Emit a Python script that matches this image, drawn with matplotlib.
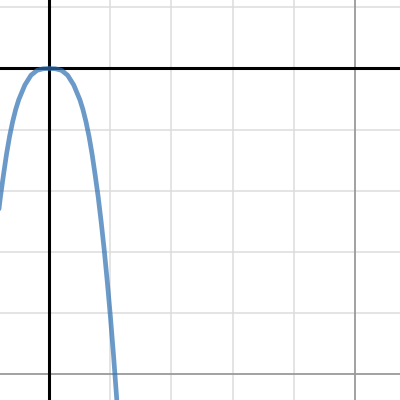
import numpy as np
import matplotlib
matplotlib.use("Agg")
import matplotlib.pyplot as plt

# Curve points (grid units, origin at the axes crossing)
curve_x = [-0.85, -0.8, -0.75, -0.7, -0.65, -0.6, -0.55, -0.5, -0.4, -0.3, -0.2, -0.1,
           0.0, 0.1, 0.2, 0.3, 0.4, 0.5, 0.55, 0.6, 0.65, 0.7, 0.75, 0.8, 0.85,
           0.9, 0.95, 1.0, 1.05, 1.1, 1.15]
curve_y = [-2.52, -2.10, -1.74, -1.40, -1.11, -0.87, -0.67, -0.51, -0.27, -0.11, -0.03, -0.004,
           0.0, -0.004, -0.03, -0.11, -0.27, -0.51, -0.67, -0.87, -1.11, -1.40, -1.74, -2.10, -2.52,
           -2.98, -3.50, -4.06, -4.68, -5.36, -6.08]

# Visible window
x_min, x_max = -0.807, 5.74
y_min, y_max = -5.425, 1.121

minor_ticks_x = [-1, 1, 2, 3, 4, 6]
minor_ticks_y = [1, -1, -2, -3, -4, -6]
major_ticks_x = [5]
major_ticks_y = [-5]

fig = plt.figure(figsize=(4, 4), dpi=100)
ax = fig.add_axes([0, 0, 1, 1])
ax.set_xlim(x_min, x_max)
ax.set_ylim(y_min, y_max)
ax.axis("off")

for gx in minor_ticks_x:
    ax.axvline(gx, color="#dcdcdc", linewidth=1.1, zorder=1)
for gy in minor_ticks_y:
    ax.axhline(gy, color="#dcdcdc", linewidth=1.1, zorder=1)
for gx in major_ticks_x:
    ax.axvline(gx, color="#9a9a9a", linewidth=1.3, zorder=2)
for gy in major_ticks_y:
    ax.axhline(gy, color="#9a9a9a", linewidth=1.3, zorder=2)

# Axes
ax.axvline(0, color="black", linewidth=2.2, zorder=3)
ax.axhline(0, color="black", linewidth=2.2, zorder=3)

ax.plot(curve_x, curve_y, color="#2d70b3", alpha=0.7, linewidth=3.4,
        solid_capstyle="round", solid_joinstyle="round", zorder=4)

fig.savefig("out.png", dpi=100)
